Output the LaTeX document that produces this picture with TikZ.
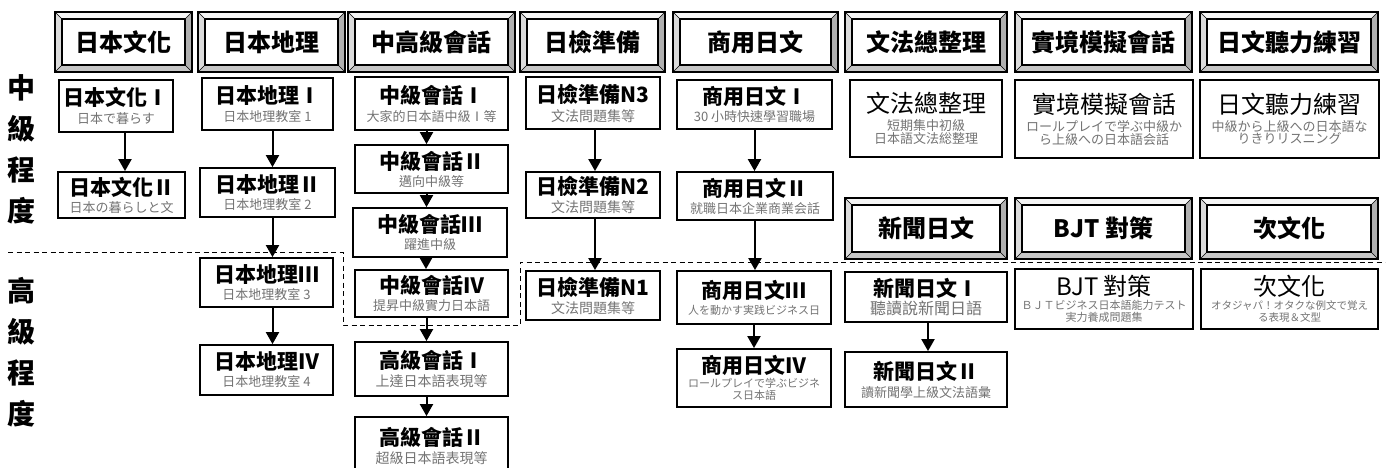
\documentclass[tikz,border=0pt]{standalone}
\usepackage{fontspec}
\setmainfont{Noto Sans CJK TC}
\usetikzlibrary{arrows.meta}

\definecolor{subgray}{gray}{0.45}
\newcommand{\cttl}{\bfseries\fontsize{21}{23}\selectfont}
\newcommand{\cbig}{\fontsize{24}{27}\selectfont}
\newcommand{\csub}{\color{subgray}\fontsize{13}{16.5}\selectfont}
\newcommand{\csml}{\color{subgray}\fontsize{11}{13.5}\selectfont}

\tikzset{
  hdr/.style={draw, line width=1.6pt, fill=white, inner sep=0pt,
    font=\bfseries\fontsize{24}{24}\selectfont,
    path picture={
      \coordinate (pNW) at (path picture bounding box.north west);
      \coordinate (pNE) at (path picture bounding box.north east);
      \coordinate (pSW) at (path picture bounding box.south west);
      \coordinate (pSE) at (path picture bounding box.south east);
      \coordinate (qNW) at ([shift={(7pt,-7pt)}]pNW);
      \coordinate (qNE) at ([shift={(-7pt,-7pt)}]pNE);
      \coordinate (qSW) at ([shift={(7pt,7pt)}]pSW);
      \coordinate (qSE) at ([shift={(-7pt,7pt)}]pSE);
      \fill[gray!8]  (pNW) -- (pNE) -- (qNE) -- (qNW) -- cycle;
      \fill[gray!28] (pNW) -- (qNW) -- (qSW) -- (pSW) -- cycle;
      \fill[gray!62] (pNE) -- (pSE) -- (qSE) -- (qNE) -- cycle;
      \fill[gray!45] (pSW) -- (qSW) -- (qSE) -- (pSE) -- cycle;
      \draw[line width=0.6pt] (pNW) -- (qNW) (pNE) -- (qNE) (pSW) -- (qSW) (pSE) -- (qSE);
      \draw[line width=1.3pt] (qNW) rectangle (qSE);
    }},
  crs/.style={draw, line width=1.8pt, fill=white, align=center, inner sep=1pt},
  side/.style={align=center, inner sep=0pt, font=\bfseries\fontsize{28}{41}\selectfont},
  arr/.style={-{Triangle[width=13pt,length=12pt]}, line width=2pt},
  lvl/.style={line width=1pt, dash pattern=on 5pt off 3.5pt}
}

\begin{document}
\begin{tikzpicture}[x=1pt, y=-1pt]
    \useasboundingbox (0,0) rectangle (1389,468);
    \clip (0,0) rectangle (1389,468);

    % level divider
    \draw [lvl] (8,252) -- (343,252) -- (343,325) -- (520,325) -- (520,262) -- (1385,262);

    % level labels
    \node [side] (lvM) at (22,149) {中\\級\\程\\度};
    \node [side] (lvH) at (22,352) {高\\級\\程\\度};

    % headers
    \node [hdr, minimum width=137, minimum height=60] (hWH) at (123.5,42) {日本文化};
    \node [hdr, minimum width=147, minimum height=60] (hDL) at (271.5,42) {日本地理};
    \node [hdr, minimum width=167, minimum height=60] (hKW) at (431.5,42) {中高級會話};
    \node [hdr, minimum width=145, minimum height=60] (hJK) at (592.5,42) {日檢準備};
    \node [hdr, minimum width=165, minimum height=60] (hSY) at (755.5,42) {商用日文};
    \node [hdr, minimum width=162, minimum height=60] (hBF) at (926,42) {文法總整理};
    \node [hdr, minimum width=177, minimum height=60] (hSJ) at (1103.5,42) {實境模擬會話};
    \node [hdr, minimum width=178, minimum height=60] (hTL) at (1289,42) {日文聽力練習};
    \node [hdr, minimum width=162, minimum height=61] (hSB) at (926,228.5) {新聞日文};
    \node [hdr, minimum width=177, minimum height=61] (hBJ) at (1103.5,228.5) {BJT 對策};
    \node [hdr, minimum width=178, minimum height=61] (hJB) at (1289,228.5) {次文化};

    % 日本文化
    \node [crs, minimum width=114, minimum height=52] (wh1) at (116,106) {{\cttl 日本文化Ⅰ}\\[4pt]{\csub 日本で暮らす}};
    \node [crs, minimum width=127, minimum height=46] (wh2) at (121.5,195) {{\cttl 日本文化Ⅱ}\\[3pt]{\csub 日本の暮らしと文}};

    % 日本地理
    \node [crs, minimum width=131, minimum height=52] (dl1) at (267.5,104) {{\cttl 日本地理Ⅰ}\\[4pt]{\csub 日本地理教室 1}};
    \node [crs, minimum width=135, minimum height=49] (dl2) at (267.5,192.5) {{\cttl 日本地理Ⅱ}\\[3pt]{\csub 日本地理教室 2}};
    \node [crs, minimum width=133, minimum height=49] (dl3) at (266.5,282.5) {{\cttl 日本地理Ⅲ}\\[3pt]{\csub 日本地理教室 3}};
    \node [crs, minimum width=133, minimum height=50] (dl4) at (266.5,370) {{\cttl 日本地理Ⅳ}\\[3pt]{\csub 日本地理教室 4}};

    % 中高級會話
    \node [crs, minimum width=153, minimum height=53] (kw1) at (431.5,103.5) {{\cttl 中級會話Ⅰ}\\[4pt]{\csub 大家的日本語中級Ⅰ等}};
    \node [crs, minimum width=153, minimum height=48] (kw2) at (431.5,169) {{\cttl 中級會話Ⅱ}\\[3pt]{\csub 邁向中級等}};
    \node [crs, minimum width=154, minimum height=49] (kw3) at (430,232.5) {{\cttl 中級會話Ⅲ}\\[3pt]{\csub 躍進中級}};
    \node [crs, minimum width=153, minimum height=47] (kw4) at (431.5,293.5) {{\cttl 中級會話Ⅳ}\\[3pt]{\csub 提昇中級實力日本語}};
    \node [crs, minimum width=153, minimum height=54] (kk1) at (431.5,369) {{\cttl 高級會話Ⅰ}\\[4pt]{\csub\fontsize{14}{17}\selectfont 上達日本語表現等}};
    \node [crs, minimum width=153, minimum height=58] (kk2) at (431.5,446) {{\cttl 高級會話Ⅱ}\\[4pt]{\csub\fontsize{14}{17}\selectfont 超級日本語表現等}};

    % 日檢準備
    \node [crs, minimum width=134, minimum height=52] (jk3) at (593,103) {{\cttl 日檢準備N3}\\[4pt]{\csub\fontsize{14}{17}\selectfont 文法問題集等}};
    \node [crs, minimum width=134, minimum height=46] (jk2) at (593,195) {{\cttl 日檢準備N2}\\[3pt]{\csub\fontsize{14}{17}\selectfont 文法問題集等}};
    \node [crs, minimum width=134, minimum height=49] (jk1) at (593,295.5) {{\cttl 日檢準備N1}\\[3pt]{\csub\fontsize{14}{17}\selectfont 文法問題集等}};

    % 商用日文
    \node [crs, minimum width=155, minimum height=49] (sy1) at (754.5,104.5) {{\cttl 商用日文Ⅰ}\\[3pt]{\csub 30 小時快速學習職場}};
    \node [crs, minimum width=156, minimum height=48] (sy2) at (755,196) {{\cttl 商用日文Ⅱ}\\[3pt]{\csub 就職日本企業商業会話}};
    \node [crs, minimum width=154, minimum height=53] (sy3) at (754,297.5) {{\cttl 商用日文Ⅲ}\\[4pt]{\csml 人を動かす実践ビジネス日}};
    \node [crs, minimum width=154, minimum height=58] (sy4) at (754,378) {{\cttl 商用日文Ⅳ}\\[2pt]{\csml ロールプレイで学ぶビジネ}\\{\csml ス日本語}};

    % 文法總整理, 新聞日文
    \node [crs, minimum width=152, minimum height=77] (bf) at (926,118.5) {{\cbig 文法總整理}\\[4pt]{\csub 短期集中初級}\\{\csub 日本語文法総整理}};
    \node [crs, minimum width=162, minimum height=50] (sb1) at (926,297) {{\cttl 新聞日文Ⅰ}\\[2pt]{\csub\fontsize{16}{18}\selectfont 聽讀說新聞日語}};
    \node [crs, minimum width=162, minimum height=55] (sb2) at (926,379.5) {{\cttl 新聞日文Ⅱ}\\[4pt]{\csub 讀新聞學上級文法語彙}};

    % 實境模擬會話, BJT 對策
    \node [crs, minimum width=178, minimum height=78] (sj) at (1104,119) {{\cbig 實境模擬會話}\\[4pt]{\csub ロールプレイで学ぶ中級か}\\{\csub ら上級への日本語会話}};
    \node [crs, minimum width=178, minimum height=60] (bj) at (1104,299) {{\cbig BJT 對策}\\[2pt]{\csml ＢＪＴビジネス日本語能力テスト}\\{\csml 実力養成問題集}};

    % 日文聽力練習, 次文化
    \node [crs, minimum width=179, minimum height=78] (tl) at (1289.5,119) {{\cbig 日文聽力練習}\\[4pt]{\csub 中級から上級への日本語な}\\{\csub りきりリスニング}};
    \node [crs, minimum width=177, minimum height=60] (jb) at (1289.5,299) {{\cbig 次文化}\\[2pt]{\csml\fontsize{10.5}{13}\selectfont オタジャパ！オタクな例文で覚え}\\{\csml\fontsize{10.5}{13}\selectfont る表現＆文型}};

    % arrows
    \draw [arr] ([xshift=9pt]wh1.south) -- ([xshift=9pt]wh1.south |- wh2.north);
    \draw [arr] ([xshift=5pt]dl1.south) -- ([xshift=5pt]dl1.south |- dl2.north);
    \draw [arr] ([xshift=5pt]dl2.south) -- ([xshift=5pt]dl2.south |- dl3.north);
    \draw [arr] ([xshift=6pt]dl3.south) -- ([xshift=6pt]dl3.south |- dl4.north);
    \draw [arr] ([xshift=-5pt]kw1.south) -- ([xshift=-5pt]kw1.south |- kw2.north);
    \draw [arr] ([xshift=-5pt]kw2.south) -- ([xshift=-5pt]kw2.south |- kw3.north);
    \draw [arr] ([xshift=-4pt]kw3.south) -- ([xshift=-4pt]kw3.south |- kw4.north);
    \draw [arr] ([xshift=-5pt]kw4.south) -- ([xshift=-5pt]kw4.south |- kk1.north);
    \draw [arr] ([xshift=-5pt]kk1.south) -- ([xshift=-5pt]kk1.south |- kk2.north);
    \draw [arr] ([xshift=2pt]jk3.south) -- ([xshift=2pt]jk3.south |- jk2.north);
    \draw [arr] ([xshift=2pt]jk2.south) -- ([xshift=2pt]jk2.south |- jk1.north);
    \draw [arr] (sy1.south) -- (sy1.south |- sy2.north);
    \draw [arr] (sy2.south) -- (sy2.south |- sy3.north);
    \draw [arr] (sy3.south) -- (sy3.south |- sy4.north);
    \draw [arr] ([xshift=2pt]sb1.south) -- ([xshift=2pt]sb1.south |- sb2.north);
\end{tikzpicture}
\end{document}
